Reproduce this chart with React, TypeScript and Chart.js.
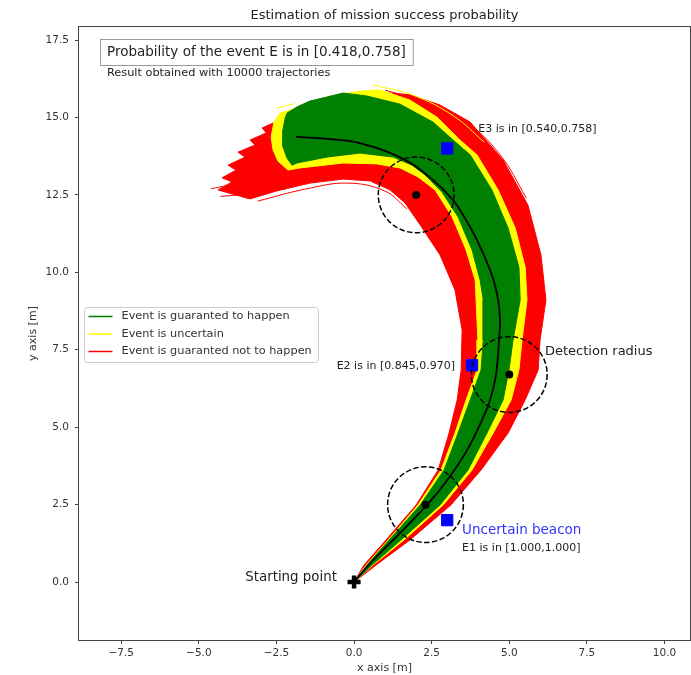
import React, { useEffect, useRef } from 'react';
import { Chart, registerables } from 'chart.js';

Chart.register(...registerables);

type Pt = [number, number];

// ---------- axis ticks ----------
const xTicks = [-7.5, -5, -2.5, 0, 2.5, 5, 7.5, 10];
const yTicks = [0, 2.5, 5, 7.5, 10, 12.5, 15, 17.5];
const xRange = [-8.86, 10.82];
const yRange = [-1.87, 17.92];

// ---------- nominal trajectory ----------
const nominalPath: Pt[] = [
  [0.0, 0.0], [0.61, 0.71], [1.26, 1.36], [2.35, 2.49], [3.0, 3.29], [3.64, 4.26],
  [4.12, 5.23], [4.38, 5.88], [4.57, 6.68], [4.67, 7.81], [4.7, 8.46], [4.64, 9.11],
  [4.44, 9.91], [3.96, 11.04], [3.57, 11.75], [3.19, 12.33], [2.54, 12.98],
  [1.64, 13.63], [0.19, 14.17], [-0.77, 14.3], [-1.87, 14.37],
];

// ---------- envelopes of the simulated trajectories ----------
const redBand: Pt[] = [
  [0, 0], [0.71, 0.55], [1.8, 1.36], [3.12, 2.49], [4.09, 3.62], [4.96, 4.81],
  [5.51, 5.88], [5.93, 6.85], [5.99, 7.81], [6.18, 9.11], [6.02, 10.56], [5.6, 12.17],
  [4.8, 13.63], [3.74, 14.85], [2.77, 15.4], [1.8, 15.73], [1.16, 15.79], [0.52, 15.63],
  [-0.45, 15.47], [-1.58, 15.24], [-2.13, 15.01],
  [-2.54, 14.85], [-2.96, 14.66], [-2.83, 14.5], [-3.35, 14.27], [-3.19, 14.11],
  [-3.74, 13.88], [-3.51, 13.72], [-4.06, 13.46], [-3.8, 13.3], [-4.25, 13.05],
  [-3.93, 12.92], [-4.38, 12.66], [-3.93, 12.53], [-3.35, 12.37],
  [-2.48, 12.63], [-1.42, 12.88], [-0.35, 13.01], [0.52, 12.95], [1.16, 12.66],
  [1.64, 12.24], [2.13, 11.53], [2.77, 10.56], [3.25, 9.43], [3.48, 8.14],
  [3.45, 6.85], [3.32, 5.88], [3.06, 4.81], [2.71, 3.62], [2.0, 2.49], [1.03, 1.36],
  [0.32, 0.55], [0, 0],
];

const yellowBand: Pt[] = [
  [0, 0], [0.61, 0.55], [1.61, 1.36], [2.87, 2.49], [3.8, 3.62], [4.48, 4.81],
  [5.06, 5.88], [5.31, 6.85], [5.41, 7.81], [5.57, 9.11], [5.51, 10.17], [5.19, 11.43],
  [4.64, 12.66], [3.96, 13.79], [3.41, 14.27], [2.67, 15.01], [1.8, 15.56], [0.84, 15.89],
  [0.19, 15.85], [-0.77, 15.69], [-1.58, 15.43], [-2.06, 15.24],
  [-2.38, 15.14], [-2.58, 14.85], [-2.67, 14.37], [-2.61, 13.95], [-2.45, 13.59], [-2.13, 13.3],
  [-1.74, 13.37], [-0.35, 13.53], [0.74, 13.5], [1.48, 13.37], [2.06, 13.08], [2.61, 12.66],
  [3.16, 11.79], [3.61, 10.72], [3.9, 9.75], [3.93, 9.11],
  [3.99, 7.81], [3.96, 6.85], [3.61, 5.88], [3.25, 4.81], [2.8, 3.62], [2.06, 2.49],
  [1.1, 1.36], [0.39, 0.55], [0, 0],
];

const greenBand: Pt[] = [
  [0, 0], [0.58, 0.55], [1.51, 1.36], [2.77, 2.49], [3.67, 3.62], [4.28, 4.81],
  [4.8, 5.88], [4.99, 6.85], [5.12, 7.81], [5.35, 9.11], [5.31, 10.17], [4.96, 11.43],
  [4.44, 12.66], [3.74, 13.79], [3.19, 14.27], [2.54, 14.85], [1.48, 15.43], [0.42, 15.69],
  [-0.35, 15.79], [-0.87, 15.66], [-1.42, 15.53], [-1.84, 15.34], [-2.16, 15.14],
  [-2.22, 14.98], [-2.29, 14.6], [-2.29, 14.05], [-2.16, 13.69], [-2.0, 13.46],
  [-1.84, 13.53], [-0.87, 13.72], [0.19, 13.85], [1.26, 13.72], [1.87, 13.46], [2.29, 13.14],
  [2.83, 12.59], [3.35, 11.79], [3.8, 10.72], [4.06, 9.75], [4.16, 9.11],
  [4.16, 7.81], [4.09, 6.85], [3.74, 5.88], [3.35, 4.81], [2.9, 3.62], [2.13, 2.49],
  [1.13, 1.36], [0.42, 0.55], [0, 0],
];

// a few stray trajectories visible at the ragged edges
const redStrays: Pt[][] = [
  [[-4.6, 12.7], [-3.6, 12.9], [-2.4, 13.1]],
  [[-4.3, 12.45], [-3.2, 12.55], [-2.2, 12.7]],
  [[-3.9, 13.35], [-2.9, 13.55]],
  [[-3.1, 12.3], [-1.6, 12.68], [-0.2, 12.88], [1.0, 12.62], [1.7, 12.05]],
  [[1.0, 15.88], [2.3, 15.5], [3.6, 14.85], [4.7, 13.8], [5.55, 12.4]],
];
const yellowStrays: Pt[][] = [
  [[0.6, 16.05], [1.9, 15.72], [3.2, 15.05], [4.2, 14.2]],
  [[-2.5, 15.3], [-1.9, 15.45]],
];

// ---------- detection points, beacons, start ----------
const circleX = [2.3, 5.0, 2.0];
const circleY = [2.5, 6.7, 12.5];
const detectionRadius = 1.22;
const beaconX = [3.0, 3.8, 3.0];
const beaconY = [2.0, 7.0, 14.0];
const startX = [0];
const startY = [0];

// ---------- text ----------
const titleText = 'Estimation of mission success probability';
const boxText = 'Probability of the event E is in [0.418,0.758]';
const subText = 'Result obtained with 10000 trajectories';
const legendLabels = ['Event is guaranted to happen', 'Event is uncertain', 'Event is guaranted not to happen'];
const legendColors = ['#008000', '#ffff00', '#ff0000'];
const eventLabels = ['E1 is in [1.000,1.000]', 'E2 is in [0.845,0.970]', 'E3 is in [0.540,0.758]'];

const FONT = '"DejaVu Sans", sans-serif';

const fmt = (v: number) => v.toFixed(1).replace('-', '\u2212');

export default function App() {
  const ref = useRef<HTMLCanvasElement>(null);

  useEffect(() => {
    document.body.style.margin = '0';
    const canvas = ref.current;
    if (!canvas) return;
    const toXY = (pts: Pt[]) => pts.map(([x, y]) => ({ x, y }));
    const zip = (xs: number[], ys: number[]) => xs.map((x, i) => ({ x, y: ys[i] }));

    const band = (pts: Pt[], color: string, order: number) => ({
      data: toXY(pts),
      showLine: true,
      fill: 'shape',
      backgroundColor: color,
      borderColor: color,
      borderWidth: 1,
      pointRadius: 0,
      pointHoverRadius: 0,
      tension: 0,
      order,
    });
    const stray = (pts: Pt[], color: string, order: number) => ({
      data: toXY(pts),
      showLine: true,
      fill: false,
      borderColor: color,
      borderWidth: 1,
      pointRadius: 0,
      pointHoverRadius: 0,
      tension: 0.4,
      order,
    });

    const overlay = {
      id: 'overlay',
      afterDatasetsDraw(chart: any) {
        const { ctx, scales } = chart;
        const xs = scales.x;
        const ys = scales.y;
        ctx.save();
        ctx.strokeStyle = '#000';
        ctx.lineWidth = 1.5;
        ctx.setLineDash([5.5, 2.4]);
        circleX.forEach((cx, i) => {
          const px = xs.getPixelForValue(cx);
          const py = ys.getPixelForValue(circleY[i]);
          const r = Math.abs(xs.getPixelForValue(cx + detectionRadius) - px);
          ctx.beginPath();
          ctx.arc(px, py, r, 0, Math.PI * 2);
          ctx.stroke();
        });
        ctx.restore();
      },
      afterDraw(chart: any) {
        const { ctx, chartArea: a, scales } = chart;
        const xs = scales.x;
        const ys = scales.y;
        ctx.save();
        // frame
        ctx.strokeStyle = '#444';
        ctx.lineWidth = 1;
        ctx.strokeRect(a.left - 0.5, a.top - 0.5, a.right - a.left + 1, a.bottom - a.top + 1);

        // title
        ctx.fillStyle = '#222';
        ctx.textBaseline = 'middle';
        ctx.textAlign = 'center';
        ctx.font = `13px ${FONT}`;
        ctx.fillText(titleText, (a.left + a.right) / 2, 16);

        // probability box
        ctx.textAlign = 'left';
        ctx.font = `13.5px ${FONT}`;
        const bw = ctx.measureText(boxText).width;
        ctx.fillStyle = '#fff';
        ctx.fillRect(a.left + 21, a.top + 12, bw + 14, 26);
        ctx.strokeStyle = '#999';
        ctx.strokeRect(a.left + 21.5, a.top + 12.5, bw + 14, 26);
        ctx.fillStyle = '#222';
        ctx.fillText(boxText, a.left + 28, a.top + 25.5);
        ctx.font = `11.3px ${FONT}`;
        ctx.fillText(subText, a.left + 28, a.top + 46);

        // legend
        const lx = a.left + 5.5;
        const ly = a.top + 280.5;
        ctx.fillStyle = 'rgba(255,255,255,0.85)';
        ctx.strokeStyle = '#ccc';
        ctx.beginPath();
        (ctx as any).roundRect(lx, ly, 234, 55, 3);
        ctx.fill();
        ctx.stroke();
        legendLabels.forEach((lab, i) => {
          const yy = ly + 9 + i * 17.5;
          ctx.strokeStyle = legendColors[i];
          ctx.lineWidth = 1.5;
          ctx.beginPath();
          ctx.moveTo(lx + 4, yy);
          ctx.lineTo(lx + 28, yy);
          ctx.stroke();
          ctx.fillStyle = '#333';
          ctx.font = `11.3px ${FONT}`;
          ctx.fillText(lab, lx + 37, yy);
        });

        // annotations anchored in data coordinates
        const put = (txt: string, x: number, y: number, align: CanvasTextAlign, size: number, color: string) => {
          ctx.font = `${size}px ${FONT}`;
          ctx.fillStyle = color;
          ctx.textAlign = align;
          ctx.fillText(txt, xs.getPixelForValue(x), ys.getPixelForValue(y));
        };
        put(eventLabels[2], 4.0, 14.63, 'left', 11, '#222');
        put('Detection radius', 6.15, 7.45, 'left', 13, '#222');
        put(eventLabels[1], 3.25, 6.97, 'right', 11, '#222');
        put('Uncertain beacon', 3.48, 1.68, 'left', 13.5, '#3333ff');
        put(eventLabels[0], 3.48, 1.1, 'left', 11, '#222');
        put('Starting point', -0.55, 0.16, 'right', 13.4, '#222');
        ctx.restore();
      },
    };

    const datasets: any[] = [
      ...redStrays.map((s) => stray(s, '#ff0000', 11)),
      band(redBand, '#ff0000', 10),
      ...yellowStrays.map((s) => stray(s, '#ffff00', 9.5)),
      band(yellowBand, '#ffff00', 9),
      band(greenBand, '#008000', 8),
      {
        data: toXY(nominalPath),
        showLine: true,
        fill: false,
        borderColor: '#000',
        borderWidth: 1.8,
        tension: 0.4,
        pointRadius: 0,
        pointHoverRadius: 0,
        order: 5,
      },
      {
        data: zip(circleX, circleY),
        pointRadius: 4,
        pointHoverRadius: 4,
        backgroundColor: '#000',
        borderColor: '#000',
        borderWidth: 0,
        order: 4,
      },
      {
        data: zip(beaconX, beaconY),
        pointStyle: 'rect',
        pointRadius: 8,
        pointHoverRadius: 8,
        backgroundColor: '#0000ff',
        borderColor: '#0000ff',
        borderWidth: 1,
        order: 3,
      },
      {
        data: zip(startX, startY),
        pointStyle: 'cross',
        pointRadius: 6.5,
        pointHoverRadius: 6.5,
        borderColor: '#000',
        borderWidth: 4.5,
        order: 2,
      },
    ];

    const chart = new Chart(canvas, {
      type: 'scatter',
      data: { datasets },
      options: {
        responsive: false,
        animation: false,
        events: [],
        devicePixelRatio: 1,
        layout: { autoPadding: false, padding: { top: 27, right: 1, left: 0, bottom: 0 } },
        plugins: { legend: { display: false }, tooltip: { enabled: false }, title: { display: false } },
        scales: {
          x: {
            type: 'linear',
            min: xRange[0],
            max: xRange[1],
            afterBuildTicks: (s: any) => { s.ticks = xTicks.map((v) => ({ value: v })); },
            afterFit: (s: any) => { s.height = 35; s.paddingLeft = 0; s.paddingRight = 0; },
            grid: { display: true, drawOnChartArea: false, drawTicks: true, tickLength: 4, color: '#444' },
            border: { display: false },
            ticks: {
              padding: 3,
              color: '#333',
              font: { family: FONT, size: 10.5 },
              callback: (v: any) => fmt(Number(v)),
              maxRotation: 0,
              autoSkip: false,
            },
            title: { display: true, text: 'x axis [m]', color: '#333', font: { family: FONT, size: 11 }, padding: { top: 0, bottom: 0 } },
          },
          y: {
            type: 'linear',
            min: yRange[0],
            max: yRange[1],
            afterBuildTicks: (s: any) => { s.ticks = yTicks.map((v) => ({ value: v })); },
            afterFit: (s: any) => { s.width = 79; s.paddingTop = 0; s.paddingBottom = 0; },
            grid: { display: true, drawOnChartArea: false, drawTicks: true, tickLength: 4, color: '#444' },
            border: { display: false },
            ticks: {
              padding: 6,
              color: '#333',
              font: { family: FONT, size: 10.5 },
              callback: (v: any) => fmt(Number(v)),
              autoSkip: false,
            },
            title: { display: true, text: 'y axis [m]', color: '#333', font: { family: FONT, size: 11 }, padding: { top: 27, bottom: 0 } },
          },
        },
      },
      plugins: [overlay],
    } as any);

    return () => chart.destroy();
  }, []);

  return (
    <div style={{ position: 'absolute', left: 0, top: 0, width: 691, height: 675, background: '#fff' }}>
      <canvas ref={ref} width={691} height={675} />
    </div>
  );
}
